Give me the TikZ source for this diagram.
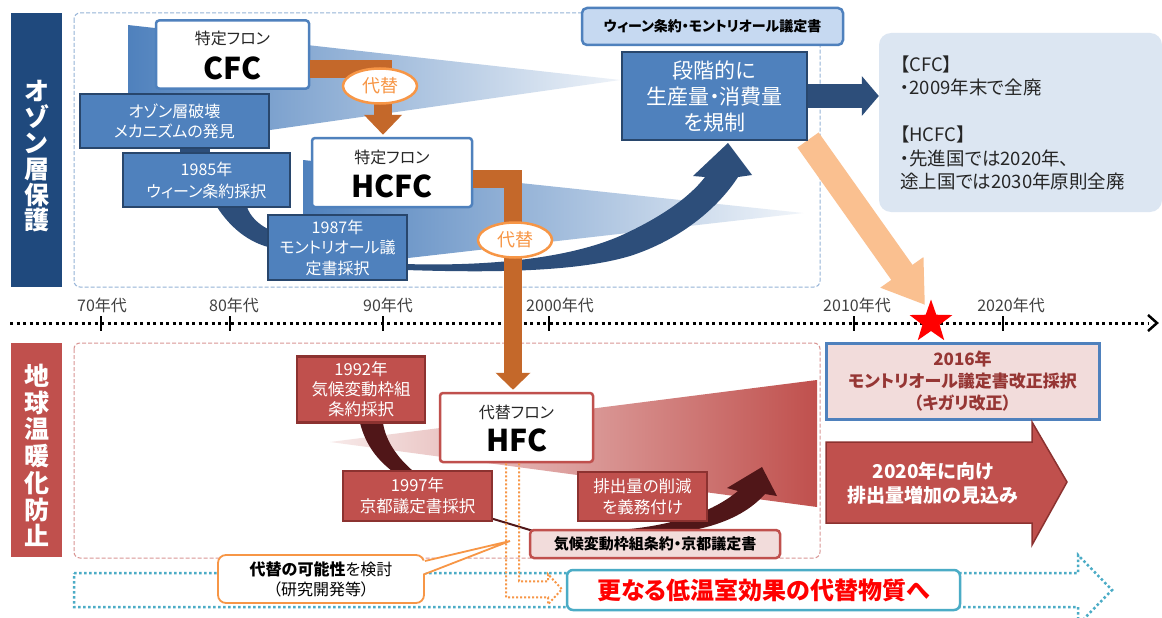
\documentclass[tikz,border=0pt]{standalone}
\usepackage{fontspec}
\setmainfont{Noto Sans CJK JP}[RawFeature=+palt]
\usetikzlibrary{arrows.meta}
\usetikzlibrary{shapes.geometric}
\usetikzlibrary{positioning}

\definecolor{ozNavy}{RGB}{31,73,125}
\definecolor{ozBlue}{RGB}{79,129,189}
\definecolor{ozEdge}{RGB}{40,70,108}
\definecolor{ozPale}{RGB}{220,230,242}
\definecolor{ozLabel}{RGB}{198,217,241}
\definecolor{ozArrow}{RGB}{45,78,122}
\definecolor{fronOrange}{RGB}{196,104,42}
\definecolor{daiOrange}{RGB}{247,150,70}
\definecolor{peach}{RGB}{250,192,144}
\definecolor{gwRed}{RGB}{192,80,77}
\definecolor{gwEdge}{RGB}{140,50,48}
\definecolor{gwPink}{RGB}{242,220,219}
\definecolor{gwDark}{RGB}{80,22,24}
\definecolor{gwText}{RGB}{150,54,52}
\definecolor{aqua}{RGB}{75,172,198}
\definecolor{frameBlue}{RGB}{149,179,215}
\definecolor{framePink}{RGB}{217,150,148}

\newcommand{\fsz}[2]{\fontsize{#1}{#2}\selectfont}

\begin{document}
\begin{tikzpicture}[x=1pt,y=-1pt,
  ozbox/.style={draw=ozEdge,line width=2.5pt,fill=ozBlue,text=white,align=center,inner sep=0pt},
  gwbox/.style={draw=gwEdge,line width=2.5pt,fill=gwRed,text=white,align=center,inner sep=0pt},
  fronbox/.style={fill=white,rounded corners=3pt,line width=2.5pt,inner sep=0pt},
  swaptag/.style={ellipse,draw=daiOrange,line width=2.5pt,fill=white,text=daiOrange,minimum width=74pt,minimum height=35pt,inner sep=0pt,font=\fsz{18}{20}},
  fronflow/.style={draw=fronOrange,line width=18.5pt},
  decade/.style={text=black!75,font=\fsz{16}{18}},
  decadetick/.style={line width=1.8pt}]
\useasboundingbox (0,0) rectangle (1162,618);
\fill[white] (0,0) rectangle (1162,618);

% frames
\draw[frameBlue,line width=1pt,dash pattern=on 4pt off 2pt,rounded corners=6pt] (74,13) rectangle (820,287);
\draw[framePink,line width=1pt,dash pattern=on 4pt off 2pt,rounded corners=6pt] (74,343) rectangle (820,558);

% wedges
\shade[left color=ozBlue,right color=ozPale!50!white] (128,25) -- (620,80) -- (270,130) -- (128,142) -- cycle;
\shade[left color=ozBlue,right color=ozPale!40!white] (303,160) -- (803,213) -- (303,270) -- cycle;
\shade[left color=gwPink!60!white,right color=gwRed] (330,442) -- (817,380) -- (817,507) -- cycle;

% timeline
\draw[line width=3pt,dash pattern=on 3pt off 3.5pt] (10,323) -- (1148,323);
\draw[line width=2.5pt] (1148,315) -- (1157,323) -- (1148,331);
\foreach \x in {101,230,383,549,854,1003}
  \draw[decadetick] (\x,316) -- (\x,331);
\node[decade] (d70) at (102,305) {70年代};
\node[decade] (d80) at (234,305) {80年代};
\node[decade] (d90) at (388,305) {90年代};
\node[decade] (d00) at (560,305) {2000年代};
\node[decade] (d10) at (857,305) {2010年代};
\node[decade] (d20) at (1011,305) {2020年代};

\coordinate (peach-start) at (808,140);
\coordinate (peach-tip) at (925,305);
\draw[peach,line width=26pt,-{Triangle[width=50pt,length=40pt]}] (peach-start) -- (peach-tip);

% curved bands
\fill[ozArrow] (217,207) .. controls (232,230) and (250,242) .. (268,247) -- (268,229) .. controls (258,224) and (250,216) .. (247,207) -- cycle;
\fill[ozArrow] (405,264) .. controls (470,266) and (560,262) .. (620,236) .. controls (660,218) and (690,197) .. (705,177) -- (693,176) -- (728,143) -- (752,175) -- (738,177) .. controls (718,208) and (680,240) .. (630,256) .. controls (570,274) and (470,272) .. (405,270) -- cycle;
\fill[gwDark] (360,423) .. controls (366,446) and (378,460) .. (392,471) -- (413,471) .. controls (398,458) and (386,442) .. (383,423) -- cycle;
\draw[gwDark,line width=2pt] (490,518) -- (540,533) -- (600,534);
\fill[gwDark] (600,531) .. controls (660,529) and (708,516) .. (738,491) -- (727,488) -- (762,467) -- (777,496) -- (765,494) .. controls (738,524) and (690,538) .. (600,537) -- cycle;

% side bars
\node[fill=ozNavy,minimum width=51pt,minimum height=274pt,inner sep=0pt] (ozone-bar) at (36.5,150) {};
\node[text=white,font=\bfseries\fsz{25}{25.8},align=center] (ozone-title) at (36.5,156.5) {オ\\ゾ\\ン\\層\\保\\護};
\node[fill=gwRed,minimum width=51pt,minimum height=214pt,inner sep=0pt] (warming-bar) at (36.5,450) {};
\node[text=white,font=\bfseries\fsz{25}{26.7},align=center] (warming-title) at (36.5,455.5) {地\\球\\温\\暖\\化\\防\\止};

% ozone layer
\node[fronbox,draw=ozBlue,minimum width=153pt,minimum height=68pt] (cfc) at (232.5,54.5) {};
\node[text=black!85,font=\fsz{16}{18}] (cfc-kind) at (232.5,38.5) {特定フロン};
\node[font=\bfseries\fsz{30}{32}] (cfc-name) at (232.5,68) {CFC};
\node[fronbox,draw=ozBlue,minimum width=160pt,minimum height=69pt] (hcfc) at (392,172.5) {};
\node[text=black!85,font=\fsz{16}{18}] (hcfc-kind) at (392,157) {特定フロン};
\node[font=\bfseries\fsz{30}{32}] (hcfc-name) at (392,186) {HCFC};
\node[ozbox,minimum width=189pt,minimum height=54pt,font=\fsz{16}{20}] (ozdisc) at (174.5,121) {オゾン層破壊\\メカニズムの発見};
\node[ozbox,minimum width=167pt,minimum height=54pt,font=\fsz{16}{22}] (vienna) at (206.5,180) {1985年\\ウィーン条約採択};
\node[ozbox,minimum width=139pt,minimum height=65pt,font=\fsz{16}{20.5}] (montreal) at (337.5,247.5) {1987年\\モントリオール議\\定書採択};
\node[draw=ozBlue,line width=2.5pt,fill=ozLabel,rounded corners=5pt,minimum width=261pt,minimum height=37pt,inner sep=0pt,font=\bfseries\fsz{14}{16}] (treaty) at (712.5,26.5) {ウィーン条約・モントリオール議定書};
\node[ozbox,minimum width=185pt,minimum height=88pt,font=\fsz{21}{26}] (regulate) at (714.5,96) {段階的に\\生産量・消費量\\を規制};
\node[fill=ozPale,rounded corners=12pt,minimum width=283pt,minimum height=179pt,inner sep=0pt] (info) at (1020.5,122.5) {};
\node[anchor=north west,align=left,font=\fsz{18.5}{23.5},text=black!85,inner sep=0pt] (info-text) at (900,55.5) {【CFC】\\・2009年末で全廃\\[23.5pt]【HCFC】\\・先進国では2020年、\\途上国では2030年原則全廃};

\draw[ozArrow,line width=30pt] ([xshift=20.5pt]ozdisc.south) -- ([xshift=-11.5pt]vienna.north);
\draw[ozArrow,line width=24pt,-{Triangle[width=39pt,length=17pt]}] (regulate.east) -- (regulate.east -| info.west);

% global warming
\node[gwbox,minimum width=128pt,minimum height=66pt,font=\fsz{16.5}{20}] (unfccc) at (361,389.5) {1992年\\気候変動枠組\\条約採択};
\node[gwbox,minimum width=149pt,minimum height=50pt,font=\fsz{16.5}{21.5}] (kyoto-adopt) at (417.5,496) {1997年\\京都議定書採択};
\node[fronbox,draw=gwRed,minimum width=153pt,minimum height=69pt] (hfc) at (516.5,427.5) {};
\node[text=black!85,font=\fsz{16}{18}] (hfc-kind) at (516.5,412.5) {代替フロン};
\node[font=\bfseries\fsz{30}{32}] (hfc-name) at (516.5,440) {HFC};
\node[gwbox,minimum width=129pt,minimum height=49pt,font=\fsz{16.5}{21.5}] (oblige) at (642.5,496.5) {排出量の削減\\を義務付け};
\node[draw=gwRed,line width=2.5pt,fill=gwPink,rounded corners=4pt,minimum width=250pt,minimum height=28pt,inner sep=0pt,font=\bfseries\fsz{15}{17}] (kyoto) at (655,544) {気候変動枠組条約・京都議定書};
\node[draw=ozBlue,line width=3pt,fill=gwPink,minimum width=273pt,minimum height=76pt,inner sep=0pt,text=gwText,align=center,font=\bfseries\fsz{17}{22}] (kigali) at (962.5,381) {2016年\\モントリオール議定書改正採択\\（キガリ改正）};
\fill[gwRed,draw=gwEdge,line width=1.5pt] (826,442) -- (1032,442) -- (1032,422) -- (1067,482) -- (1032,545) -- (1032,523) -- (826,523) -- cycle;
\node[text=white,align=center,font=\bfseries\fsz{19}{24}] (outlook) at (933,483) {2020年に向け\\排出量増加の見込み};

% substitution flows
\draw[fronflow,shorten >=2pt,-{Triangle[width=37pt,length=20pt]}] ([yshift=-14.5pt]cfc.east) -| ([xshift=-9pt]hcfc.north);
\draw[fronflow,shorten >=2pt,-{Triangle[width=34pt,length=17pt]}] ([yshift=-6.5pt]hcfc.east) -| ([xshift=-3.5pt]hfc.north);
\node[swaptag] (swap1) at (380,86) {代替};
\node[swaptag] (swap2) at (515,240) {代替};

\node[star,star points=5,star point ratio=2.5,fill=red,minimum size=45pt,inner sep=0pt] (kigali-star) at (931,322) {};

% next step
\draw[aqua,line width=2.5pt,dash pattern=on 2.5pt off 2.5pt] (74,573) -- (1078,573) -- (1078,555) -- (1112,590) -- (1078,625) -- (1078,607) -- (74,607) -- cycle;
\node[draw=aqua,line width=2.5pt,fill=white,rounded corners=6pt,minimum width=393pt,minimum height=40pt,inner sep=0pt,text=red,font=\bfseries\fsz{24}{26}] (nextgen) at (763.5,590) {更なる低温室効果の代替物質へ};
\draw[daiOrange,line width=2pt,dash pattern=on 2pt off 2pt] ([xshift=-10.5pt]hfc.south) -- ++(0,134) -- ++(42,0) -- ++(0,7) -- ++(14,-15) -- ++(-14,-15) -- ++(0,7) -- ++(-29,0) -- ([xshift=2.5pt]hfc.south);
\node[draw=daiOrange,line width=1.8pt,fill=white,rounded corners=8pt,minimum width=206pt,minimum height=48pt,inner sep=0pt,align=center,font=\fsz{16}{20}] (study) at (321,579) {\textbf{代替の可能性}を検討\\（研究開発等）};
\coordinate (study-tip) at (510,541);
\fill[white] ([shift={(-3pt,18pt)}]study.east) -- (study-tip) -- ([shift={(-3pt,5pt)}]study.east) -- cycle;
\draw[daiOrange,line width=1.8pt] ([yshift=18pt]study.east) -- (study-tip) -- ([yshift=5pt]study.east);

\end{tikzpicture}
\end{document}
